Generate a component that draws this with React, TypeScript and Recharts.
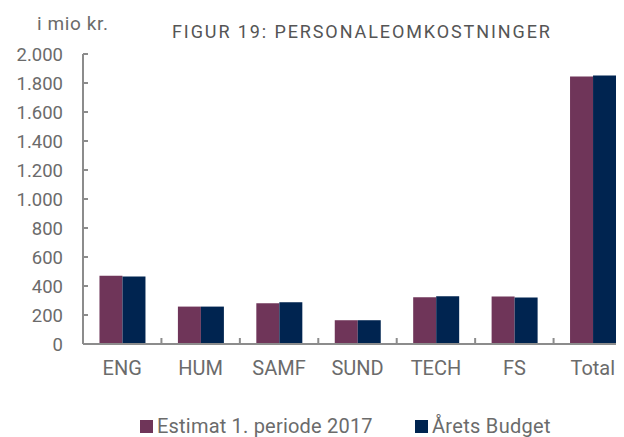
import React from "react";
import { BarChart, Bar, XAxis, YAxis } from "recharts";

const categories = ["ENG", "HUM", "SAMF", "SUND", "TECH", "FS", "Total"];
const estimat = [470, 258, 281, 164, 323, 327, 1844];
const budget = [466, 258, 288, 164, 330, 320, 1851];
const yTicks = [0, 200, 400, 600, 800, 1000, 1200, 1400, 1600, 1800, 2000];
const seriesNames = ["Estimat 1. periode 2017", "Årets Budget"];

const data = categories.map((c, i) => ({ name: c, estimat: estimat[i], budget: budget[i] }));

const PURPLE = "#6f3559";
const NAVY = "#002450";
const TEXT = "#6b6b6b";
const AXIS = "#8c8c8c";
const FONT = "Roboto, 'DejaVu Sans', sans-serif";

const fmt = (v: number) => v.toLocaleString("de-DE");

const YTick = (props: any) => {
  const { x, y, payload } = props;
  return (
    <g>
      <line x1={x} x2={x + 5} y1={y} y2={y} stroke={AXIS} strokeWidth={2} />
      <text x={x - 20} y={y} dy={6.7} textAnchor="end" fill={TEXT} fontSize={18.5} fontFamily={FONT}>
        {fmt(payload.value)}
      </text>
    </g>
  );
};

const XTick = (props: any) => {
  const { x, y, payload, index } = props;
  const off = payload.offset ?? 39;
  return (
    <g>
      {index < categories.length - 1 && (
        <line x1={x + off} x2={x + off} y1={y} y2={y - 6} stroke={AXIS} strokeWidth={2} />
      )}
      <text x={x} y={y + 31} textAnchor="middle" fill={TEXT} fontSize={20} fontFamily={FONT}>
        {payload.value}
      </text>
    </g>
  );
};

export default function App() {
  return (
    <div style={{ position: "relative", width: 616, height: 429, overflow: "hidden" }}>
      <BarChart
        width={624}
        height={440}
        data={data}
        margin={{ top: 46, right: 0, bottom: 0, left: 0 }}
        barCategoryGap="21%"
        barGap={0}
      >
        <XAxis
          dataKey="name"
          height={104}
          tickSize={0}
          tickMargin={0}
          tick={<XTick />}
          axisLine={{ stroke: AXIS, strokeWidth: 2 }}
          interval={0}
        />
        <YAxis
          width={75}
          domain={[0, 2000]}
          ticks={yTicks}
          tickSize={0}
          tickMargin={0}
          tick={<YTick />}
          axisLine={{ stroke: AXIS, strokeWidth: 2 }}
          interval={0}
        />
        <Bar dataKey="estimat" name={seriesNames[0]} fill={PURPLE} isAnimationActive={false} />
        <Bar dataKey="budget" name={seriesNames[1]} fill={NAVY} isAnimationActive={false} />
      </BarChart>
      <svg
        width={616}
        height={429}
        style={{ position: "absolute", left: 0, top: 0, pointerEvents: "none" }}
      >
        <text x={29} y={22} fill={TEXT} fontSize={19} letterSpacing={0.6} fontFamily={FONT}>
          i mio kr.
        </text>
        <text x={164} y={30} fill="#555555" fontSize={18} letterSpacing={1.9} fontFamily={FONT} fontWeight={400}>
          FIGUR 19: PERSONALEOMKOSTNINGER
        </text>
        <rect x={132} y={412} width={13} height={13} fill={PURPLE} />
        <text x={149} y={425} fill={TEXT} fontSize={20} letterSpacing={0.2} fontFamily={FONT}>
          {seriesNames[0]}
        </text>
        <rect x={407} y={412} width={13} height={13} fill={NAVY} />
        <text x={424} y={425} fill={TEXT} fontSize={20} letterSpacing={0.3} fontFamily={FONT}>
          {seriesNames[1]}
        </text>
      </svg>
    </div>
  );
}
